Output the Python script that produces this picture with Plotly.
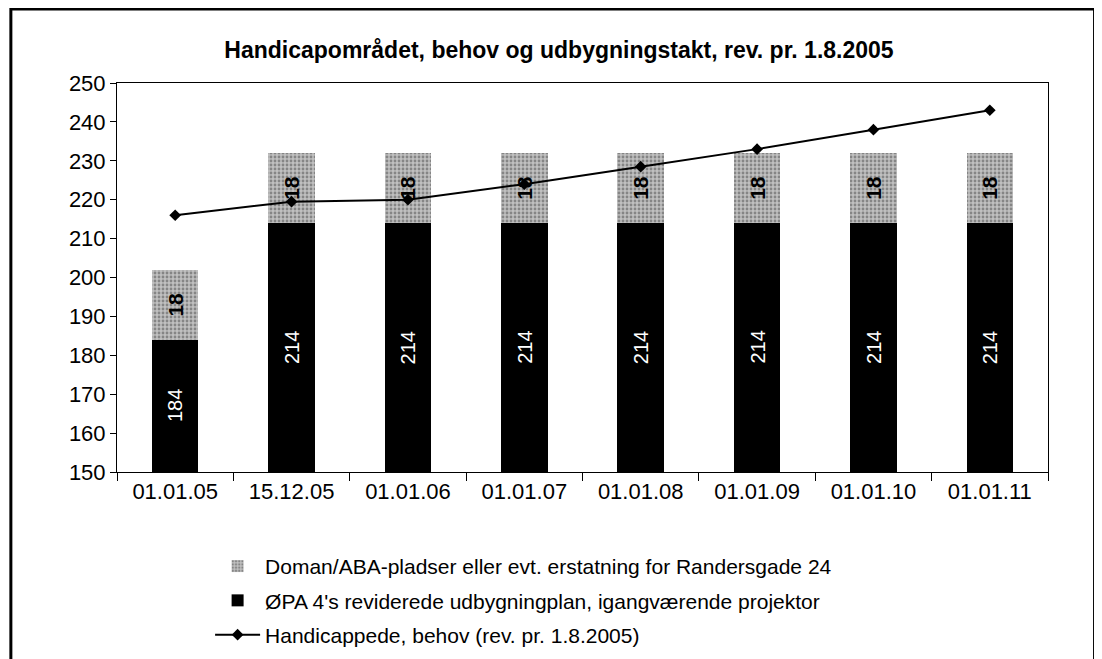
import plotly.graph_objects as go

datoer = ["01.01.05", "15.12.05", "01.01.06", "01.01.07", "01.01.08", "01.01.09", "01.01.10", "01.01.11"]
oepa_plan = [184, 214, 214, 214, 214, 214, 214, 214]
doman_aba = [18, 18, 18, 18, 18, 18, 18, 18]
behov = [216, 219.5, 220, 224, 228.5, 233, 238, 243]

navn_doman = "Doman/ABA-pladser eller evt. erstatning for Randersgade 24"
navn_oepa = "ØPA 4's reviderede udbygningplan, igangværende projektor"
navn_behov = "Handicappede, behov (rev. pr. 1.8.2005)"

Y_MIN, Y_MAX = 150, 250
FONT = "Liberation Sans, Arial, sans-serif"

fig = go.Figure()

fig.add_trace(go.Bar(
    x=datoer, y=oepa_plan, name=navn_oepa,
    marker=dict(color="#000000", line=dict(width=0)),
    legendgroup="b", legendrank=2,
))

fig.add_trace(go.Bar(
    x=datoer, y=doman_aba, name=navn_doman,
    marker=dict(color="#b0b0b0", line=dict(width=0),
                pattern=dict(shape=".", fgcolor="#4a4a4a", bgcolor="#c0c0c0",
                             size=4, solidity=0.4)),
    text=[f"<b>{v}</b>" for v in doman_aba], textposition="inside", textangle=-90,
    insidetextanchor="middle",
    textfont=dict(family=FONT, size=21, color="black"),
    legendgroup="a", legendrank=1,
))

fig.add_trace(go.Scatter(
    x=datoer, y=behov, name=navn_behov, mode="lines+markers",
    line=dict(color="black", width=2),
    marker=dict(symbol="diamond", size=9, color="black"),
    legendgroup="c", legendrank=3,
))

# tal i de sorte søjler, midt i den synlige del
for d, v in zip(datoer, oepa_plan):
    fig.add_annotation(x=d, y=(Y_MIN + v) / 2, text=str(v), textangle=-90,
                       showarrow=False, font=dict(family=FONT, size=20, color="white"))

# ramme rundt om det hele
fig.add_shape(type="rect", xref="paper", yref="paper",
              x0=-0.114, x1=1.05, y0=-0.6, y1=1.19,
              line=dict(color="black", width=3), fillcolor="rgba(0,0,0,0)",
              layer="below")

fig.update_layout(
    width=1102, height=659,
    margin=dict(l=109, r=62, t=75, b=188),
    barmode="stack", bargap=0.6,
    plot_bgcolor="white", paper_bgcolor="white",
    font=dict(family=FONT, size=22, color="black"),
    title=dict(text="<b>Handicapområdet, behov og udbygningstakt, rev. pr. 1.8.2005</b>",
               x=0.5, xanchor="center", y=0.937, yanchor="middle",
               font=dict(size=23)),
    showlegend=True,
    legend=dict(x=0.1, y=-0.19, xanchor="left", yanchor="top",
                orientation="v", tracegroupgap=4, itemwidth=45,
                font=dict(size=21), bgcolor="rgba(0,0,0,0)"),
    xaxis=dict(showline=True, linecolor="black", linewidth=1, mirror=True,
               ticks="outside", tickson="boundaries", ticklen=8, tickcolor="black",
               tickfont=dict(size=22), showgrid=False),
    yaxis=dict(range=[Y_MIN, Y_MAX], dtick=10, showline=True, linecolor="black",
               linewidth=1, mirror=True, ticks="outside", ticklen=6,
               tickcolor="black", tickfont=dict(size=22), showgrid=False,
               zeroline=False),
)

fig.write_html("out.html")
